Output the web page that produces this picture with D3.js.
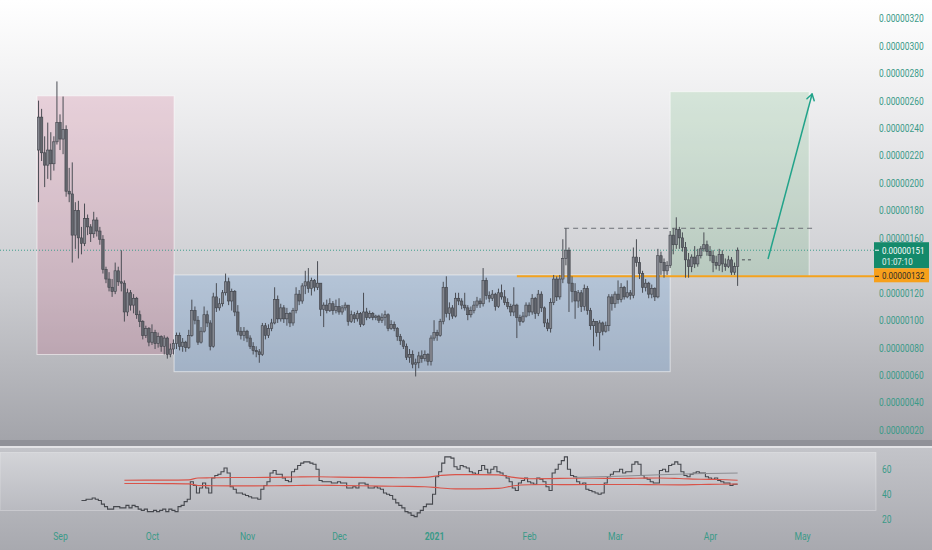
<!DOCTYPE html>
<html><head><meta charset="utf-8">
<script src="https://cdn.jsdelivr.net/npm/d3@7"></script>
<style>html,body{margin:0;padding:0;overflow:hidden;background:#fff}svg{display:block}</style>
</head><body>
<svg id="c" width="932" height="550"></svg>
<script>
// ---------- DATA (prices in units of 1e-8) ----------
const firstDate = "2020-08-25";
const firstOpen = 224;
const closes = [
248,222,213,224,214,230,244,232,239,194,
192,162,180,160,156,174,168,163,173,165,
159,137,130,124,121,136,128,127,106,120,
111,116,104,99,89,94,84,91,83,88,
81,87,75,79,83,89,81,84,80,89,
107,100,84,92,104,98,81,117,109,112,
120,128,114,121,106,92,89,92,87,81,
78,77,75,96,89,94,98,115,101,109,
101,105,98,107,119,114,125,128,123,129,
124,127,108,111,107,112,107,110,106,109,
111,99,104,101,105,97,106,102,105,102,
103,100,102,104,94,97,94,88,85,81,
73,75,68,69,74,72,75,70,87,91,
89,99,124,105,109,103,116,114,111,109,
104,107,111,114,112,129,118,116,119,110,
120,117,113,110,106,111,102,99,103,111,
106,116,105,119,109,98,94,113,130,117,
130,145,151,127,121,114,120,110,123,107,
96,99,91,98,92,96,117,112,119,115,
124,117,120,118,146,142,134,124,127,119,
123,117,147,142,136,140,162,155,166,160,
153,144,139,146,141,147,152,155,150,147,
142,140,148,141,139,144,135,139,151];
const highs = [
260,254,234,244,237,234,274,250,263,242,
211,215,186,187,168,185,177,170,179,175,
168,162,139,135,130,142,139,151,129,123,
122,119,117,107,100,96,95,97,93,91,
89,89,88,83,86,91,91,87,85,93,
115,110,103,95,110,107,100,120,127,116,
122,134,131,123,122,111,95,95,93,89,
84,81,79,98,98,97,101,124,118,112,
111,109,106,109,124,122,127,136,138,131,
130,143,127,113,115,116,114,115,116,111,
113,111,107,106,107,106,120,109,107,106,
104,104,105,107,105,100,99,95,90,86,
83,79,78,72,77,78,78,76,89,100,
93,101,128,132,113,111,120,120,116,120,
111,110,114,117,116,138,131,121,122,120,
123,126,122,116,112,124,112,104,106,113,
113,119,117,122,121,110,101,116,133,132,
133,159,167,153,132,127,122,122,126,125,
109,101,99,100,99,99,119,119,121,129,
127,125,129,122,153,159,146,136,130,128,
126,124,152,150,145,143,165,167,175,168,
164,157,149,148,154,152,154,164,158,154,
151,147,152,151,145,147,146,142,153];
const lows = [
186,216,197,203,202,209,228,224,221,190,
186,142,152,145,148,154,162,157,160,161,
155,134,127,121,117,119,125,121,99,103,
107,105,101,95,86,87,81,82,79,80,
77,75,72,73,75,79,78,77,77,79,
88,97,82,83,91,95,78,80,106,107,
110,118,111,107,103,89,86,85,84,79,
75,73,69,74,86,87,92,97,98,99,
98,96,95,96,105,111,112,119,120,118,
121,122,103,95,105,106,104,105,104,104,
107,96,98,98,99,95,96,100,101,100,
100,98,98,96,92,93,92,85,82,79,
71,69,65,59,65,69,70,67,67,85,
85,88,97,102,100,101,102,111,108,107,
100,102,105,109,109,110,115,113,114,107,
109,115,111,108,103,103,87,96,98,102,
103,104,101,103,106,95,92,91,111,114,
115,127,140,106,113,101,109,106,107,104,
93,81,88,78,89,91,92,107,109,112,
113,115,116,115,116,139,130,120,121,116,
116,114,116,133,131,133,138,148,152,152,
150,131,131,135,138,139,145,150,147,143,
135,137,136,135,136,138,133,133,125];

// RSI (starts at candle index 14)
const rsiStart = 14;
const rsi = [
35,35,36,36,37,36,35,32,30,28,
28,30,30,29,29,31,29,31,30,28,
27,28,26,26,27,26,27,28,26,28,
27,26,30,31,34,36,50,47,41,45,
49,45,41,53,55,56,58,61,57,46,
44,41,41,40,39,38,37,37,36,44,
47,50,57,59,56,56,53,51,50,58,
60,63,65,66,66,65,64,60,51,50,
50,50,49,49,50,49,49,45,45,46,
45,49,49,48,45,45,46,45,44,41,
40,39,36,33,31,29,26,25,23,22,
25,27,30,32,32,40,54,58,65,70,
70,69,62,60,63,62,61,58,57,56,
59,63,60,57,60,62,58,57,55,53,
50,45,43,49,51,53,50,49,48,53,
52,50,46,43,57,60,64,67,70,60,
55,54,50,48,49,44,43,42,41,40,
41,49,54,56,58,58,60,57,58,58,
64,66,64,55,53,52,50,49,49,59,
60,58,63,64,66,64,58,55,54,56,
57,58,57,57,54,53,52,53,51,50,
49,49,47,48,48];
const bandIdx   = [28,35,42,49,52,56,63,70,77,84,91,98,105,112,119,126,131,136,143,150,155,160,167,174,181,188,195,202,209,216,222,228];
const bandUpper = [51.2,51.3,51.3,51.5,53.0,53.2,53.4,53.4,53.5,53.8,54.0,53.7,53.5,53.3,53.2,53.5,55.0,55.8,55.8,55.5,53.5,52.4,52.5,52.8,52.8,52.6,52.8,53.0,52.6,52.0,51.8,51.2];
const bandLower = [48.6,48.6,48.5,48.3,47.0,46.8,46.7,46.7,46.8,47.0,47.2,47.0,46.8,46.5,46.3,46.0,45.0,44.3,44.3,44.6,46.8,47.6,47.8,47.7,47.8,47.8,47.8,47.6,47.5,47.8,48.0,48.2];
const sigIdx = [175,190,205,215,228];
const sigVal = [53.5,54.5,55.8,56.5,57.0];

// axes (0.00000140 is hidden behind the price tags in the reference)
const priceTicks = [20,40,60,80,100,120,160,180,200,220,240,260,280,300,320];
const rsiTicks = [20,40,60];
const monthDates  = ["2020-09-01","2020-10-01","2020-11-01","2020-12-01","2021-01-01","2021-02-01","2021-03-01","2021-04-01","2021-05-01"];
const monthLabels = ["Sep","Oct","Nov","Dec","2021","Feb","Mar","Apr","May"];

// annotations
const lastPrice = 151, countdown = "01:07:10", levelPrice = 132, prevHigh = 167;
const zoneNames  = ["drop","range","target"];
const zoneStart  = ["2020-08-24T12:00","2020-10-08T05:00","2021-03-19T00:00"];
const zoneEnd    = ["2020-10-08T05:00","2021-03-19T00:00","2021-05-03T08:00"];
const zoneTop    = [263.5,133,266.5];
const zoneBottom = [75,62.5,132];
const zoneFill   = ["rgba(198,83,124,0.20)","rgba(110,165,228,0.26)","rgba(105,185,121,0.20)"];
const levelStart = "2021-01-28T00:00";
const highStart = "2021-02-12T10:00", highEnd = "2021-05-04T07:00";
const projStart = "2021-04-11T10:00", projEnd = "2021-04-15T00:00", projVal = 144;
const arrowFrom = ["2021-04-19T22:00", 144.6], arrowTo = ["2021-05-04T07:00", 264.8];

// ---------- SCALES ----------
const P = d => new Date(d + (d.length === 10 ? "T00:00:00Z" : ":00Z"));
const x = d3.scaleUtc().domain([P("2020-09-01"), P("2021-05-01")]).range([60, 802]);
const y = d3.scaleLinear().domain([20, 320]).range([430, 18.3]);
const ry = d3.scaleLinear().domain([20, 60]).range([519.1, 469.3]);
const day0 = P(firstDate).getTime();
const dateOf = i => new Date(day0 + i * 864e5);

const candles = closes.map((c, i) => ({
  d: dateOf(i), o: i === 0 ? firstOpen : closes[i - 1], c, h: highs[i], l: lows[i]
}));

const svg = d3.select("#c");
const W = 932, H = 550;
const defs = svg.append("defs");
function grad(id, stops) {
  const g = defs.append("linearGradient").attr("id", id).attr("x1", 0).attr("y1", 0).attr("x2", 0).attr("y2", 1);
  stops.forEach(s => g.append("stop").attr("offset", s[0]).attr("stop-color", s[1]));
}
grad("bgMain", [[0, "#ffffff"], [0.3, "#e9e9eb"], [0.65, "#cbccd0"], [1, "#a3a4aa"]]);
grad("bgLow", [[0, "#c3c4c9"], [1, "#a8a9af"]]);
grad("bgBox", [[0, "#d3d4d8"], [1, "#b9bac0"]]);

// backgrounds
svg.append("rect").attr("width", W).attr("height", 441).attr("fill", "url(#bgMain)");
svg.append("rect").attr("y", 440).attr("width", W).attr("height", 6).attr("fill", "#909198");
svg.append("rect").attr("y", 446).attr("width", W).attr("height", 2).attr("fill", "#e3e3e6");
svg.append("rect").attr("y", 448).attr("width", W).attr("height", 102).attr("fill", "url(#bgLow)");
svg.append("rect").attr("x", 0).attr("y", ry(73.5)).attr("width", 876).attr("height", ry(27) - ry(73.5))
  .attr("fill", "url(#bgBox)").attr("stroke", "rgba(255,255,255,0.35)").attr("stroke-width", 0.8);

// zones
const zg = svg.append("g");
zoneNames.forEach((n, k) => {
  const x0 = x(P(zoneStart[k])), x1 = x(P(zoneEnd[k]));
  zg.append("rect").attr("x", x0).attr("y", y(zoneTop[k])).attr("width", x1 - x0)
    .attr("height", y(zoneBottom[k]) - y(zoneTop[k])).attr("fill", zoneFill[k])
    .attr("stroke", "rgba(255,255,255,0.55)").attr("stroke-width", 1);
});

// previous high dashed
svg.append("line").attr("x1", x(P(highStart))).attr("x2", x(P(highEnd)))
  .attr("y1", y(prevHigh)).attr("y2", y(prevHigh))
  .attr("stroke", "#6d7077").attr("stroke-width", 1).attr("stroke-dasharray", "5,4");

// last price dotted
svg.append("line").attr("x1", 0).attr("x2", 874).attr("y1", y(lastPrice)).attr("y2", y(lastPrice))
  .attr("stroke", "#3d9d8b").attr("stroke-width", 1).attr("stroke-dasharray", "1,2");

// orange level
svg.append("line").attr("x1", x(P(levelStart))).attr("x2", 874).attr("y1", y(levelPrice)).attr("y2", y(levelPrice))
  .attr("stroke", "#f4a21d").attr("stroke-width", 2);

// candles
const cw = 2.4;
const cg = svg.append("g");
cg.selectAll("line.w").data(candles).join("line").attr("class", "w")
  .attr("x1", d => x(d.d)).attr("x2", d => x(d.d)).attr("y1", d => y(d.h)).attr("y2", d => y(d.l))
  .attr("stroke", "#4a4d54").attr("stroke-width", 1);
cg.selectAll("rect.b").data(candles).join("rect").attr("class", "b")
  .attr("x", d => x(d.d) - cw / 2).attr("width", cw)
  .attr("y", d => y(Math.max(d.o, d.c))).attr("height", d => Math.max(1, Math.abs(y(d.o) - y(d.c))))
  .attr("fill", d => d.c >= d.o ? "#858890" : "#63666d").attr("stroke", "#3f4249").attr("stroke-width", 0.6);

// projection dash
svg.append("line").attr("x1", x(P(projStart))).attr("x2", x(P(projEnd))).attr("y1", y(projVal)).attr("y2", y(projVal))
  .attr("stroke", "#4a4d54").attr("stroke-width", 1).attr("stroke-dasharray", "3,3");

// arrow
const ax0 = x(P(arrowFrom[0])), ay0 = y(arrowFrom[1]), ax1 = x(P(arrowTo[0])), ay1 = y(arrowTo[1]);
svg.append("line").attr("x1", ax0).attr("y1", ay0).attr("x2", ax1).attr("y2", ay1)
  .attr("stroke", "#22a38a").attr("stroke-width", 1.5);
const ang = Math.atan2(ay1 - ay0, ax1 - ax0);
[Math.PI * 0.82, -Math.PI * 0.82].forEach(a => {
  svg.append("line").attr("x1", ax1).attr("y1", ay1)
    .attr("x2", ax1 + 7 * Math.cos(ang + a)).attr("y2", ay1 + 7 * Math.sin(ang + a))
    .attr("stroke", "#22a38a").attr("stroke-width", 1.5).attr("stroke-linecap", "round");
});

// price axis
const teal = "#3a9a88";
const fmt = v => (v * 1e-8).toFixed(8);
const ya = svg.append("g").attr("transform", "translate(879,0)")
  .call(d3.axisRight(y).tickValues(priceTicks).tickSize(0).tickPadding(0).tickFormat(fmt));
ya.select(".domain").remove();
ya.selectAll("text").attr("fill", teal).attr("font-family", "Roboto, sans-serif").attr("font-size", 10.5)
  .attr("x", 0).attr("transform", "scale(0.8,1)");

// price tags
svg.append("rect").attr("x", 874).attr("y", y(lastPrice) - 8).attr("width", 55).attr("height", 26).attr("fill", "#148a6b");
svg.append("line").attr("x1", 875).attr("x2", 879).attr("y1", y(lastPrice)).attr("y2", y(lastPrice)).attr("stroke", "#fff");
const tagText = (t, ty, col) => svg.append("text").attr("transform", `translate(882,${ty}) scale(0.84,1)`)
  .attr("dy", "0.35em").attr("fill", col).attr("font-family", "Roboto, sans-serif").attr("font-size", 9.5).text(t);
tagText(fmt(lastPrice), y(lastPrice) + 0.5, "#ffffff");
tagText(countdown, y(lastPrice) + 11.5, "#e6f3ef");
svg.append("rect").attr("x", 874).attr("y", y(levelPrice) - 8).attr("width", 55).attr("height", 14).attr("fill", "#f7a01b");
svg.append("line").attr("x1", 875).attr("x2", 879).attr("y1", y(levelPrice)).attr("y2", y(levelPrice)).attr("stroke", "#222");
tagText(fmt(levelPrice), y(levelPrice) - 1, "#2a2a2a");

// RSI panel
const rsiData = rsi.map((v, k) => ({ d: dateOf(rsiStart + k), v }));
svg.append("path").datum(rsiData)
  .attr("d", d3.line().x(d => x(d.d)).y(d => ry(d.v)).curve(d3.curveStep))
  .attr("fill", "none").attr("stroke", "#46484e").attr("stroke-width", 1.1);
const bandLine = d3.line().x(d => x(d.d)).y(d => ry(d.v)).curve(d3.curveMonotoneX);
[bandUpper, bandLower].forEach(arr => {
  svg.append("path").datum(arr.map((v, k) => ({ d: dateOf(bandIdx[k]), v })))
    .attr("d", bandLine).attr("fill", "none").attr("stroke", "#d9544a").attr("stroke-width", 1.2);
});
svg.append("path").datum(sigVal.map((v, k) => ({ d: dateOf(sigIdx[k]), v })))
  .attr("d", bandLine).attr("fill", "none").attr("stroke", "#8c8d92").attr("stroke-width", 1);

const ra = svg.append("g").attr("transform", "translate(882,0)")
  .call(d3.axisRight(ry).tickValues(rsiTicks).tickSize(0).tickPadding(0));
ra.select(".domain").remove();
ra.selectAll("text").attr("fill", teal).attr("font-family", "Roboto, sans-serif").attr("font-size", 10.5)
  .attr("x", 0).attr("transform", "scale(0.8,1)");

// time axis
const xa = svg.append("g").attr("transform", "translate(0,530)")
  .call(d3.axisBottom(x).tickValues(monthDates.map(P)).tickSize(0).tickPadding(3)
    .tickFormat((d, i) => monthLabels[i]));
xa.select(".domain").remove();
xa.selectAll("text").attr("fill", teal).attr("font-family", "Roboto, sans-serif").attr("font-size", 10.5)
  .attr("transform", "scale(0.82,1)")
  .attr("font-weight", (d, i) => monthLabels[i] === "2021" ? "bold" : "normal");
</script>
</body></html>
